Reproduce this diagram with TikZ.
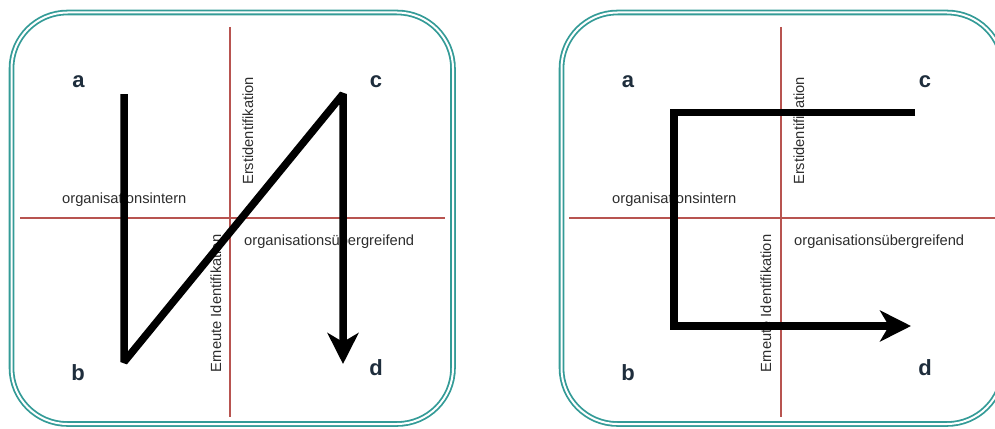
\documentclass[tikz,border=0pt]{standalone}
\usepackage{fontspec}
\setmainfont{Liberation Sans}
\usetikzlibrary{arrows.meta}
\definecolor{panelteal}{RGB}{52,155,151}
\definecolor{dividerred}{RGB}{184,84,80}
\definecolor{lettercol}{RGB}{30,45,60}
\definecolor{textcol}{RGB}{45,45,45}
\begin{document}
\begin{tikzpicture}[x=1pt,y=-1pt,
  panel/.style={draw=panelteal, line width=1.8pt, double=white, double distance=2pt, rounded corners=56pt},
  divider/.style={draw=dividerred, line width=1.2pt},
  letter/.style={font=\fontsize{22}{24}\selectfont\bfseries, text=lettercol, inner sep=0pt, anchor=base},
  lbl/.style={font=\fontsize{14.7}{16}\selectfont, text=textcol, inner sep=0pt},
  flow/.style={line width=7.5pt, draw=black, line join=bevel},
  bigtip/.style={-{Stealth[length=31pt,width=31pt,inset=9pt]}}
]
\useasboundingbox (0,0) rectangle (995,428);

% ---------- left panel: a -> b -> c -> d ----------
\draw[panel] (11.5,12.5) rectangle (453,424);
\draw[divider] (230,27) -- (230,417);
\draw[divider] (20,218) -- (445,218);

\node[letter] (la) at (78.5,87) {a};
\node[letter] (lb) at (78,380) {b};
\node[letter] (lc) at (376,87) {c};
\node[letter] (ld) at (376,375) {d};

\node[lbl, anchor=base west] (lint) at (62,203) {organisationsintern};
\node[lbl, anchor=base west] (lueb) at (244,245) {organisationsübergreifend};
\node[lbl, rotate=90, anchor=base west] (lerst) at (253,185) {Erstidentifikation};
\node[lbl, rotate=90, anchor=base west] (lern) at (221,373) {Erneute Identifikation};

\coordinate (lpa) at (124,94);
\coordinate (lpb) at (124,362);
\coordinate (lpc) at (343,94);
\coordinate (lpd) at (343,364);
\draw[flow, bigtip] (lpa) -- (lpb) -- (lpc) -- (lpd);

% ---------- right panel: c -> a -> b -> d ----------
\draw[panel] (561.5,12.5) rectangle (1003,424);
\draw[divider] (781,27) -- (781,417);
\draw[divider] (569,218) -- (1000,218);

\node[letter] (ra) at (628,87) {a};
\node[letter] (rb) at (628,380) {b};
\node[letter] (rc) at (925,87) {c};
\node[letter] (rd) at (925,375) {d};

\node[lbl, anchor=base west] (rint) at (612,203) {organisationsintern};
\node[lbl, anchor=base west] (rueb) at (794,245) {organisationsübergreifend};
\node[lbl, rotate=90, anchor=base west] (rerst) at (804,185) {Erstidentifikation};
\node[lbl, rotate=90, anchor=base west] (rern) at (771,373) {Erneute Identifikation};

\coordinate (rpc) at (915,112.5);
\coordinate (rpa) at (674,112.5);
\coordinate (rpb) at (674,326);
\coordinate (rpd) at (911,326);
\draw[flow, bigtip, line join=miter] (rpc) -- (rpa) -- (rpb) -- (rpd);
\end{tikzpicture}
\end{document}
